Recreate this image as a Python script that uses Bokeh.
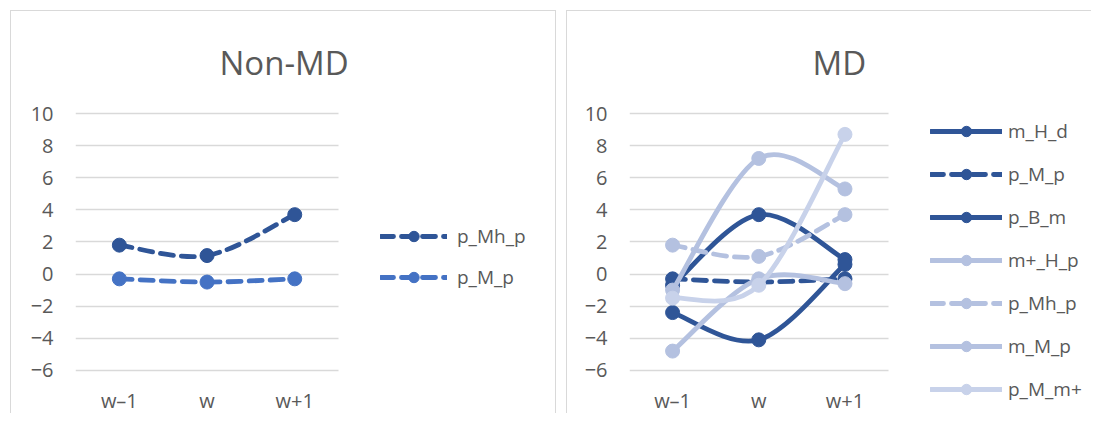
import numpy as np
from bokeh.plotting import figure
from bokeh.models import Range1d, FixedTicker, Legend, LegendItem, Title, ColumnDataSource
from bokeh.layouts import row
from bokeh.embed import file_html
from bokeh.resources import INLINE

# ---------------- data ----------------
categories = ["w\u20131", "w", "w+1"]
y_ticks = [-6, -4, -2, 0, 2, 4, 6, 8, 10]

nonmd_title = "Non-MD"
nonmd_names = ["p_Mh_p", "p_M_p"]
nonmd_p_Mh_p = [1.8, 1.15, 3.7]
nonmd_p_M_p = [-0.3, -0.5, -0.3]

md_title = "MD"
md_names = ["m_H_d", "p_M_p", "p_B_m", "m+_H_p", "p_Mh_p", "m_M_p", "p_M_m+"]
md_m_H_d = [-0.7, 3.7, 0.9]
md_p_M_p = [-0.3, -0.5, -0.3]
md_p_B_m = [-2.4, -4.1, 0.6]
md_mplus_H_p = [-1.0, 7.2, 5.3]
md_p_Mh_p = [1.8, 1.1, 3.7]
md_m_M_p = [-4.8, -0.3, -0.6]
md_p_M_mplus = [-1.5, -0.7, 8.7]

# ---------------- style ----------------
DARK = "#2F5597"
MID = "#4472C4"
LIGHT = "#B4C1E0"
LIGHTER = "#C8D2EA"
TEXT = "#595959"
GRID = "#D9D9D9"
FONT = "Open Sans"
DASH = "13 8"
PX_PER_UNIT = 16.0          # vertical scale (pixels per y unit)
Y_TOP = 10.25               # value at the top of the frame
TOP_BORDER = 98
CANVAS_H = 402


def smooth_segments(xs, ys):
    """Bezier control points for an Excel-like smoothed line through the points."""
    xs = np.asarray(xs, float)
    ys = np.asarray(ys, float)
    n = len(xs)
    prev = np.r_[0, np.arange(n - 1)]
    nxt = np.r_[np.arange(1, n), n - 1]
    i0 = np.arange(n - 1)
    i1 = i0 + 1
    return dict(
        x0=xs[i0], y0=ys[i0], x1=xs[i1], y1=ys[i1],
        cx0=xs[i0] + (xs[i1] - xs[prev[i0]]) / 6.0,
        cy0=ys[i0] + (ys[i1] - ys[prev[i0]]) / 6.0,
        cx1=xs[i1] - (xs[nxt[i1]] - xs[i0]) / 6.0,
        cy1=ys[i1] - (ys[nxt[i1]] - ys[i0]) / 6.0,
    )


def make_panel(title_text, names, series, colors, dashes, frame_left, canvas_w,
               px_per_cat, title_offset, leg_vx, leg_vy, leg_spacing,
               glyph_w, standoff, styles):
    xs = list(range(len(categories)))
    frame_w = canvas_w - frame_left
    frame_h = CANVAS_H - TOP_BORDER
    y_bottom = Y_TOP - frame_h / PX_PER_UNIT
    p = figure(frame_width=frame_w, frame_height=frame_h,
               min_border_left=frame_left, min_border_right=0,
               min_border_top=TOP_BORDER, min_border_bottom=0,
               x_range=Range1d(-0.5, -0.5 + frame_w / px_per_cat),
               y_range=Range1d(y_bottom, Y_TOP),
               x_axis_location="above",
               toolbar_location=None, output_backend="svg")
    p.styles = styles
    p.outline_line_color = None
    p.background_fill_color = "white"
    p.border_fill_color = "white"

    t = Title(text=title_text, align="left", offset=title_offset, standoff=50,
              text_font=FONT, text_font_size="33px", text_font_style="normal",
              text_color=TEXT)
    p.add_layout(t, "above")

    p.xgrid.visible = False
    p.ygrid.ticker = FixedTicker(ticks=y_ticks)
    p.ygrid.grid_line_color = GRID
    p.ygrid.grid_line_width = 1.5
    p.ygrid.cross_bounds = (-0.5, len(categories) - 0.5)

    p.yaxis.ticker = FixedTicker(ticks=y_ticks)
    p.xaxis.ticker = FixedTicker(ticks=xs)
    p.xaxis.major_label_overrides = {i: c for i, c in enumerate(categories)}
    p.xaxis.fixed_location = y_bottom + 0.04
    for ax in (p.xaxis, p.yaxis):
        ax.axis_line_color = None
        ax.major_tick_line_color = None
        ax.minor_tick_line_color = None
        ax.major_tick_out = 0
        ax.major_tick_in = 0
        ax.major_label_text_font = FONT
        ax.major_label_text_font_size = "20px"
        ax.major_label_text_color = TEXT
    p.yaxis.major_label_standoff = 22
    p.xaxis.major_label_standoff = 0

    items = []
    for name, ys, col, dash in zip(names, series, colors, dashes):
        src = ColumnDataSource(smooth_segments(xs, ys))
        r1 = p.bezier(x0="x0", y0="y0", x1="x1", y1="y1", cx0="cx0", cy0="cy0",
                      cx1="cx1", cy1="cy1", source=src, line_color=col,
                      line_width=4.8, line_dash=dash, line_cap="round")
        r2 = p.scatter(x=xs, y=ys, size=14, marker="circle", fill_color=col,
                       line_color=col)
        items.append(LegendItem(label=name, renderers=[r1, r2]))

    leg = Legend(items=items, location=(leg_vx, leg_vy), orientation="vertical",
                 glyph_width=glyph_w, glyph_height=26, label_height=26,
                 label_standoff=standoff, spacing=leg_spacing, padding=0, margin=0,
                 border_line_color=None, background_fill_alpha=0,
                 label_text_font=FONT, label_text_font_size="19px",
                 label_text_color=TEXT)
    p.add_layout(leg)
    return p


BORDER = "1px solid #D9D9D9"

p1 = make_panel(nonmd_title, nonmd_names, [nonmd_p_Mh_p, nonmd_p_M_p],
                [DARK, MID], [DASH, DASH],
                frame_left=64, canvas_w=544, px_per_cat=262 / 3, title_offset=144,
                leg_vx=305, leg_vy=124, leg_spacing=15, glyph_w=67, standoff=10,
                styles={"position": "relative", "left": "10px", "top": "10px",
                        "border-left": BORDER, "border-top": BORDER,
                        "border-right": BORDER})

p2 = make_panel(md_title, md_names,
                [md_m_H_d, md_p_M_p, md_p_B_m, md_mplus_H_p, md_p_Mh_p, md_m_M_p, md_p_M_mplus],
                [DARK, DARK, DARK, LIGHT, LIGHT, LIGHT, LIGHTER],
                ["solid", DASH, "solid", "solid", DASH, "solid", "solid"],
                frame_left=62, canvas_w=524, px_per_cat=86, title_offset=183,
                leg_vx=301, leg_vy=12, leg_spacing=17, glyph_w=72, standoff=6,
                styles={"position": "relative", "left": "20px", "top": "10px",
                        "border-left": BORDER, "border-top": BORDER})

layout = row(p1, p2)
open("out.html", "w").write(file_html(layout, INLINE))
